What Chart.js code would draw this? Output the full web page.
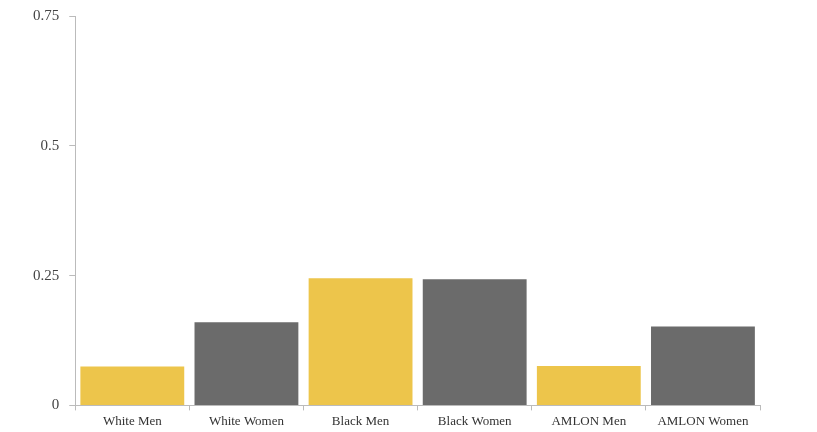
<!DOCTYPE html>
<html>
<head>
<meta charset="utf-8">
<script src="https://cdn.jsdelivr.net/npm/chart.js@4"></script>
<style>
html,body{margin:0;padding:0;background:#fff;overflow:hidden;}
#wrap{width:817px;height:432px;position:relative;}
canvas{display:block;}
</style>
</head>
<body>
<div id="wrap"><canvas id="c" width="817" height="432"></canvas></div>
<script>
const categories = ["White Men", "White Women", "Black Men", "Black Women", "AMLON Men", "AMLON Women"];
const values = [0.075, 0.16, 0.245, 0.243, 0.076, 0.152];
const barColors = ["#EDC54B", "#6B6B6B", "#EDC54B", "#6B6B6B", "#EDC54B", "#6B6B6B"];
const yTicks = [0, 0.25, 0.5, 0.75];

new Chart(document.getElementById('c'), {
  type: 'bar',
  data: {
    labels: categories,
    datasets: [{
      data: values,
      backgroundColor: barColors,
      borderWidth: 0,
      barPercentage: 0.91,
      categoryPercentage: 1
    }]
  },
  options: {
    responsive: false,
    animation: false,
    layout: { padding: { left: 23, right: 57, top: -3, bottom: 0 } },
    plugins: { legend: { display: false }, tooltip: { enabled: false } },
    scales: {
      x: {
        grid: { display: true, drawOnChartArea: false, offset: true, color: '#BBBBBB', tickLength: 5 },
        border: { display: true, color: '#BBBBBB', width: 1 },
        ticks: { color: '#333', font: { family: 'Liberation Serif', size: 13 }, padding: 3, maxRotation: 0 }
      },
      y: {
        min: 0, max: 0.75,
        afterBuildTicks: (ax) => { ax.ticks = yTicks.map(v => ({ value: v })); },
        grid: { display: true, drawOnChartArea: false, color: '#BBBBBB', tickLength: 6 },
        border: { display: true, color: '#BBBBBB', width: 1 },
        ticks: { color: '#444', font: { family: 'Liberation Serif', size: 15, lineHeight: 0.8 }, padding: 10,
                 callback: (v) => String(v) }
      }
    }
  }
});
</script>
</body>
</html>
